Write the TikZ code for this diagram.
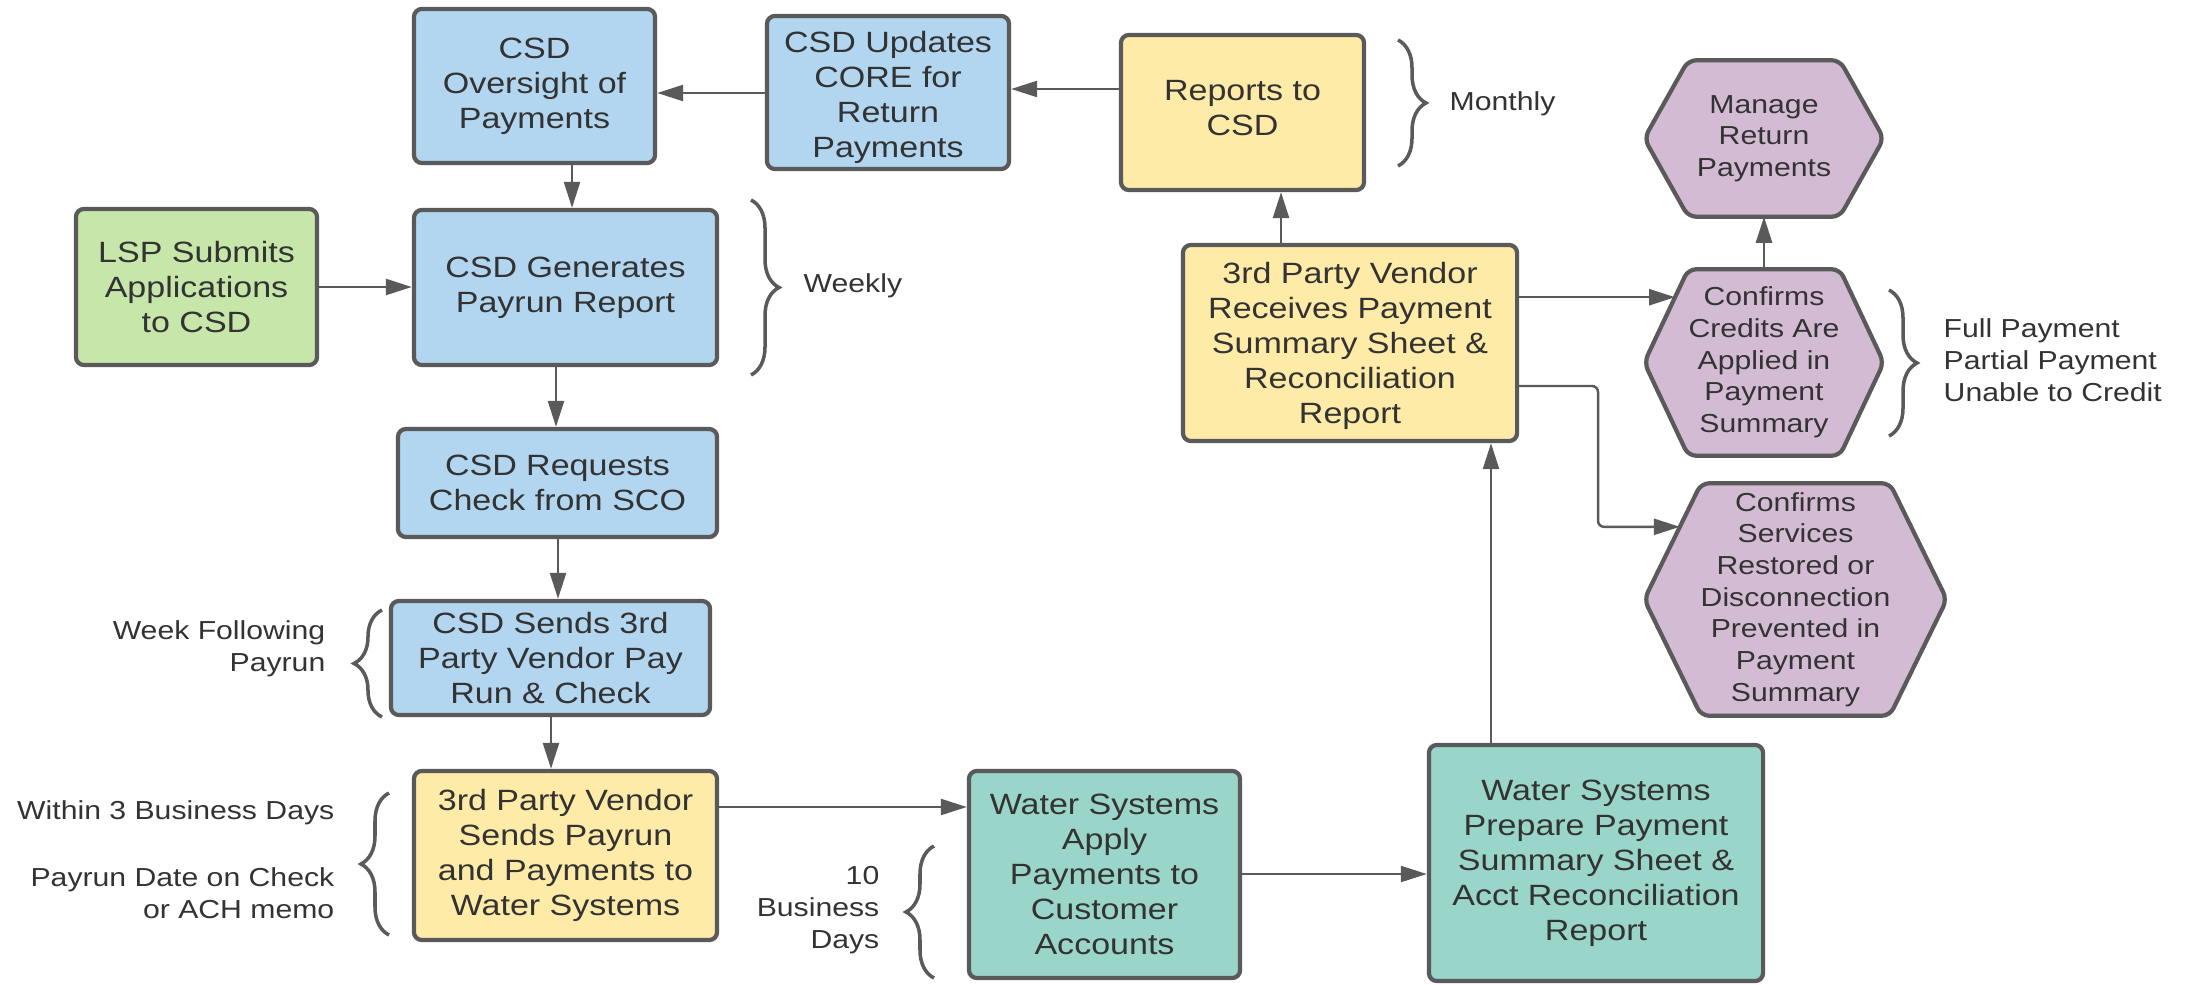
\documentclass[tikz,border=0pt]{standalone}
\usepackage{fontspec}
\setmainfont{Liberation Sans}[FakeStretch=1.16]
\usetikzlibrary{arrows.meta,decorations.pathreplacing,backgrounds,calc}
\definecolor{bord}{HTML}{5A5A5A}
\definecolor{txt}{HTML}{333333}
\definecolor{cblue}{HTML}{B2D6EF}
\definecolor{cgreen}{HTML}{C6E6AA}
\definecolor{cyellow}{HTML}{FFEBA8}
\definecolor{cteal}{HTML}{9AD5CA}
\definecolor{cpurple}{HTML}{D3BCD3}
\newcommand{\shiftedtext}[3]{\raisebox{#1}[\height][\depth]{\parbox{#2}{\centering #3}}}
\begin{document}
\begin{tikzpicture}[x=0.01cm,y=-0.01cm,
 box/.style={draw=bord, line width=1.2pt, rounded corners=0.08cm, align=center, text=txt, inner sep=0pt, font=\fontsize{8.34pt}{9.96pt}\selectfont},
 hexnode/.style={align=center, text=txt, inner sep=0pt, font=\fontsize{7.4pt}{9.0pt}\selectfont},
 hex/.style={draw=bord, line width=1.2pt, rounded corners=0.08cm, fill=cpurple},
 lbl/.style={text=txt, inner sep=0pt, font=\fontsize{7.4pt}{9.1pt}\selectfont},
 arr/.style={draw=bord, line width=0.7pt, -{Triangle[length=0.26cm,width=0.16cm]}},
 brc/.style={draw=bord, line width=1pt, decorate, decoration={brace, amplitude=0.28cm}},
]
\useasboundingbox (0,0) rectangle (2185,985);

% boxes
\node[box, fill=cblue, minimum width=2.41cm, minimum height=1.54cm] (ov) at (534.5,86) {CSD\\Oversight of\\Payments};
\node[box, fill=cblue, minimum width=2.42cm, minimum height=1.53cm] (up) at (888,92.5) {\shiftedtext{-0.05cm}{2.4cm}{CSD Updates\\CORE for\\Return\\Payments}};
\node[box, fill=cyellow, minimum width=2.43cm, minimum height=1.55cm] (rep) at (1242.5,112.5) {\shiftedtext{0.04cm}{2.4cm}{Reports to\\CSD}};
\node[box, fill=cgreen, minimum width=2.41cm, minimum height=1.56cm] (lsp) at (196.5,287) {LSP Submits\\Applications\\to CSD};
\node[box, fill=cblue, minimum width=3.03cm, minimum height=1.55cm] (gen) at (565.5,287.5) {CSD Generates\\Payrun Report};
\node[box, fill=cblue, minimum width=3.19cm, minimum height=1.08cm] (req) at (557.5,483) {CSD Requests\\Check from SCO};
\node[box, fill=cblue, minimum width=3.19cm, minimum height=1.14cm] (sends) at (550.5,658) {CSD Sends 3rd\\Party Vendor Pay\\Run \& Check};
\node[box, fill=cyellow, minimum width=3.03cm, minimum height=1.69cm] (vend) at (565.5,855.5) {3rd Party Vendor\\Sends Payrun\\and Payments to\\Water Systems};
\node[box, fill=cteal, minimum width=2.71cm, minimum height=2.07cm] (apply) at (1104.5,874.5) {Water Systems\\Apply\\Payments to\\Customer\\Accounts};
\node[box, fill=cteal, minimum width=3.34cm, minimum height=2.36cm] (prep) at (1596,863) {Water Systems\\Prepare Payment\\Summary Sheet \&\\Acct Reconciliation\\Report};
\node[box, fill=cyellow, minimum width=3.34cm, minimum height=1.96cm] (recv) at (1350,343) {\shiftedtext{-0.03cm}{3.3cm}{3rd Party Vendor\\Receives Payment\\Summary Sheet \&\\Reconciliation\\Report}};

% hexagon nodes
\node[hexnode, minimum width=2.38cm, minimum height=1.55cm] (mrp) at (1764,138.5) {Manage\\Return\\Payments};
\node[hexnode, minimum width=2.38cm, minimum height=1.85cm] (ccr) at (1764,362.5) {Confirms\\Credits Are\\Applied in\\Payment\\Summary};
\node[hexnode, minimum width=3.01cm, minimum height=2.31cm] (csr) at (1795.5,599.5) {Confirms\\Services\\Restored or\\Disconnection\\Prevented in\\Payment\\Summary};

\begin{scope}[on background layer]
\draw[hex] (mrp.west) -- ($(mrp.north west)+(44,0)$) -- ($(mrp.north east)+(-44,0)$) -- (mrp.east) -- ($(mrp.south east)+(-44,0)$) -- ($(mrp.south west)+(44,0)$) -- cycle;
\draw[hex] (ccr.west) -- ($(ccr.north west)+(44,0)$) -- ($(ccr.north east)+(-44,0)$) -- (ccr.east) -- ($(ccr.south east)+(-44,0)$) -- ($(ccr.south west)+(44,0)$) -- cycle;
\draw[hex] (csr.west) -- ($(csr.north west)+(57,0)$) -- ($(csr.north east)+(-57,0)$) -- (csr.east) -- ($(csr.south east)+(-57,0)$) -- ($(csr.south west)+(57,0)$) -- cycle;
\end{scope}

\coordinate (ccin) at ($(ccr.west)!0.70!($(ccr.north west)+(44,0)$)$);
\coordinate (csin) at ($(csr.west)!0.625!($(csr.north west)+(57,0)$)$);

% connectors
\draw[arr] (up.west |- 0,93) -- (ov.east |- 0,93);
\draw[arr] (rep.west |- 0,89) -- (up.east |- 0,89);
\draw[arr] (ov.south -| 572,0) -- (gen.north -| 572,0);
\draw[arr] (lsp.east |- 0,287) -- (gen.west |- 0,287);
\draw[arr] (gen.south -| 556,0) -- (req.north -| 556,0);
\draw[arr] (req.south -| 558,0) -- (sends.north -| 558,0);
\draw[arr] (sends.south -| 551,0) -- (vend.north -| 551,0);
\draw[arr] (vend.east |- 0,807) -- (apply.west |- 0,807);
\draw[arr] (apply.east |- 0,874) -- (prep.west |- 0,874);
\draw[arr] (prep.north -| 1491,0) -- (recv.south -| 1491,0);
\draw[arr] (recv.north -| 1281,0) -- (rep.south -| 1281,0);
\draw[arr] (recv.east |- ccin) -- (ccin);
\draw[arr, rounded corners=0.06cm] (recv.east |- 0,386) -- (1598,386) |- (csin);
\draw[arr] (ccr.north) -- (mrp.south);

% braces
\draw[brc] (1398,40) -- (1398,166);
\draw[brc] (751,200) -- (751,375);
\draw[brc] (1889,290) -- (1889,436);
\draw[brc] (382,717) -- (382,610);
\draw[brc] (389,935) -- (389,793);
\draw[brc] (934,978) -- (934,846);

% labels
\node[lbl, anchor=west] (lmon) at (1449,104) {Monthly};
\node[lbl, anchor=west] (lweek) at (803,286) {Weekly};
\node[lbl, anchor=west, align=left] (lfull) at (1943,360) {Full Payment\\Partial Payment\\Unable to Credit};
\node[lbl, anchor=east, align=right] (lwf) at (326,648.5) {Week Following\\Payrun};
\node[lbl, anchor=east] (lw3) at (335,813) {Within 3 Business Days};
\node[lbl, anchor=east, align=right] (lpd) at (335,893) {Payrun Date on Check\\or ACH memo};
\node[lbl, anchor=east, align=right] (l10) at (880,910) {10\\Business\\Days};
\end{tikzpicture}
\end{document}
